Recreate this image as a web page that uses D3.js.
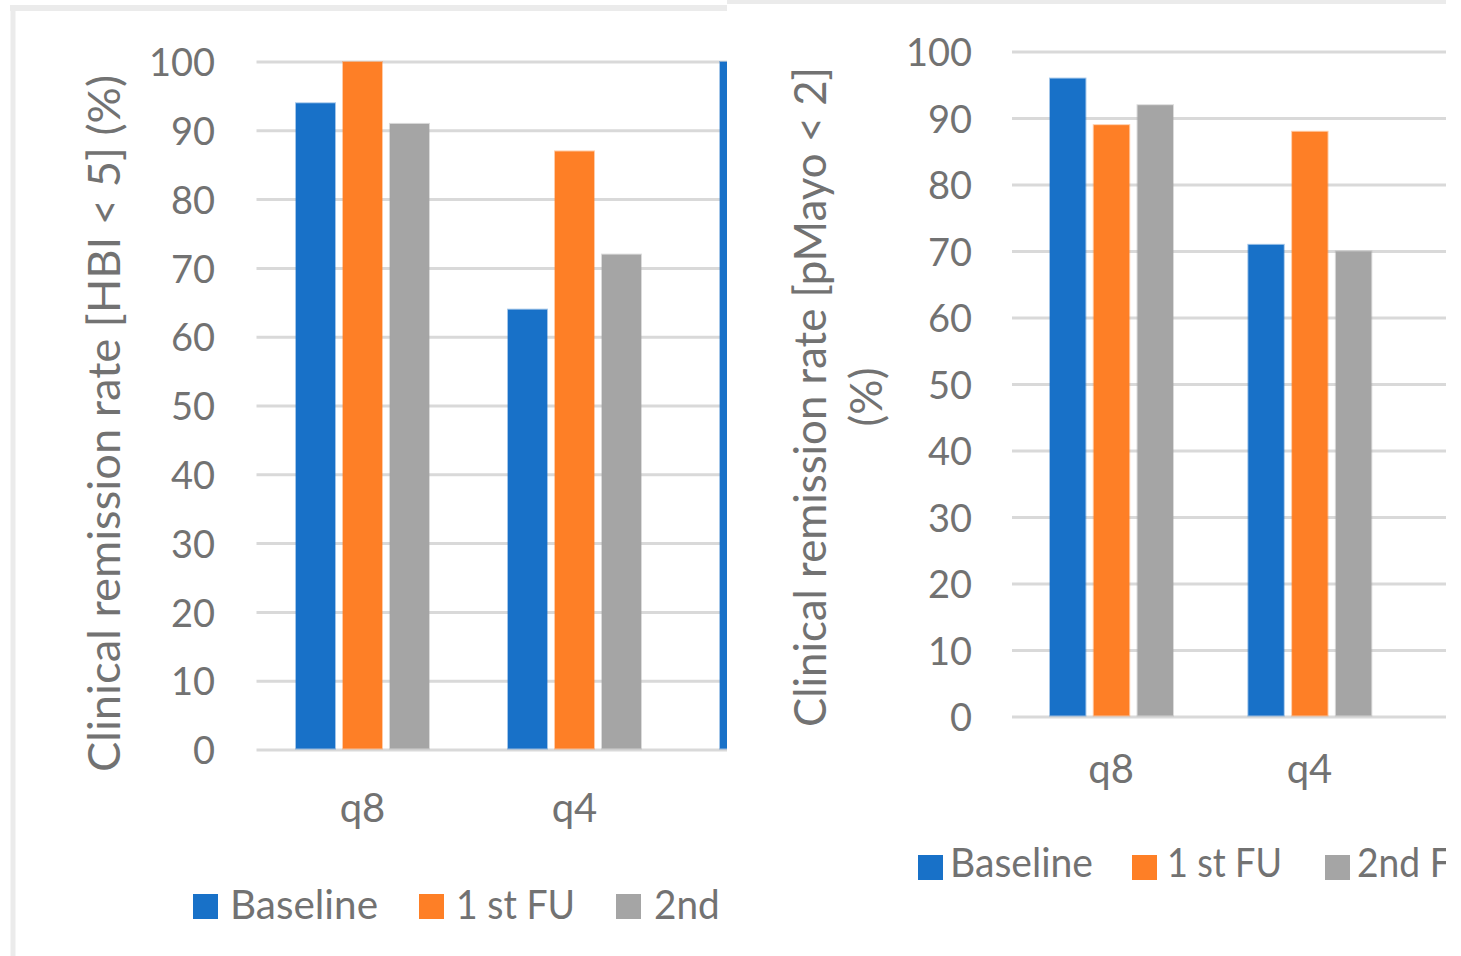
<!DOCTYPE html>
<html>
<head>
<meta charset="utf-8">
<script src="https://cdn.jsdelivr.net/npm/d3@7"></script>
<style>
  html, body { margin: 0; padding: 0; background: #ffffff; }
  svg { display: block; }
  text { font-family: "Lato", "Liberation Sans", sans-serif; fill: #727272; }
</style>
</head>
<body>
<script>
// ---------------- DATA ----------------
// Third category is cropped away in the source picture (only a sliver of the left chart's bar shows).
const categories = ["q8", "q4", "Total"];
const seriesNames = ["Baseline", "1 st FU", "2nd FU"];
const seriesColors = ["#1871c8", "#fe7f26", "#a5a5a5"];

// Left chart: Clinical remission rate [HBI < 5] (%)
const hbiBaseline = [94, 64, 100];
const hbiFirstFU  = [100, 87, null];
const hbiSecondFU = [91, 72, null];

// Right chart: Clinical remission rate [pMayo < 2] (%)
const mayoBaseline = [96, 71, null];
const mayoFirstFU  = [89, 88, null];
const mayoSecondFU = [92, 70, null];

const yTicks = [0, 10, 20, 30, 40, 50, 60, 70, 80, 90, 100];

const leftTitle = ["Clinical remission rate [HBI < 5] (%)"];
const rightTitle = ["Clinical remission rate [pMayo < 2]", "(%)"];

// ---------------- DRAW ----------------
const W = 1461, H = 956;
const svg = d3.select("body").append("svg").attr("width", W).attr("height", H);
const defs = svg.append("defs");
defs.append("clipPath").attr("id", "clipL").append("rect")
  .attr("x", 0).attr("y", 0).attr("width", 727).attr("height", H);
defs.append("clipPath").attr("id", "clipR").append("rect")
  .attr("x", 727).attr("y", 0).attr("width", 719).attr("height", H);

function drawChart(cfg) {
  const g = svg.append("g").attr("clip-path", `url(#${cfg.clip})`);

  cfg.frame(g);

  const y = d3.scaleLinear().domain([0, 100]).range([cfg.y0, cfg.y100]);
  const x0 = d3.scaleBand().domain(categories).range(cfg.xRange);
  const x1 = d3.scaleBand().domain(seriesNames).range(cfg.innerRange).paddingInner(cfg.innerPad);

  // gridlines
  g.append("g").selectAll("line").data(yTicks).join("line")
    .attr("x1", cfg.xRange[0]).attr("x2", cfg.xRange[1])
    .attr("y1", d => y(d)).attr("y2", d => y(d))
    .attr("stroke", "#d9d9d9").attr("stroke-width", 3);

  // y tick labels
  const yAxis = d3.axisLeft(y).tickValues(yTicks).tickSize(0).tickPadding(0);
  const ya = g.append("g").attr("transform", `translate(${cfg.tickX},0)`).call(yAxis);
  ya.select(".domain").remove();
  ya.selectAll("text").attr("font-size", 38).attr("font-family", "Lato, sans-serif")
    .attr("fill", "#727272").attr("dy", "0.36em");

  // bars
  const table = categories.map((c, i) => ({
    cat: c,
    vals: seriesNames.map((s, j) => ({ s, v: cfg.series[j][i], color: seriesColors[j] }))
  }));
  const cg = g.append("g").selectAll("g").data(table).join("g")
    .attr("transform", d => `translate(${x0(d.cat)},0)`);
  cg.selectAll("rect").data(d => d.vals.filter(v => v.v != null)).join("rect")
    .attr("x", d => x1(d.s))
    .attr("width", x1.bandwidth())
    .attr("y", d => y(d.v))
    .attr("height", d => y(0) - y(d.v) - 1.5)
    .attr("fill", d => d.color)
    .attr("stroke", d => d.color).attr("stroke-opacity", 0.4).attr("stroke-width", 2);

  // x category labels (only those whose position lies inside the visible crop)
  const xAxis = d3.axisBottom(x0).tickSize(0).tickPadding(0)
    .tickValues(categories.filter(c => x0(c) + x0.bandwidth() / 2 < cfg.visibleRight));
  const xa = g.append("g").attr("transform", `translate(0,${cfg.xLabelBase})`).call(xAxis);
  xa.select(".domain").remove();
  xa.selectAll("text").attr("font-size", 40).attr("font-family", "Lato, sans-serif")
    .attr("fill", "#727272").attr("dy", 0);

  // axis title
  const t = g.append("text")
    .attr("transform", `translate(${cfg.titleX},${cfg.titleY}) rotate(-90)`)
    .attr("text-anchor", "middle").attr("font-size", 44);
  cfg.title.forEach((line, i) => {
    const ts = t.append("tspan").attr("x", 0).attr("y", i * cfg.titleLead).text(line);
    if (cfg.titleLen[i]) ts.attr("textLength", cfg.titleLen[i]).attr("lengthAdjust", "spacingAndGlyphs");
  });

  // legend
  const lg = g.append("g").selectAll("g").data(seriesNames).join("g");
  lg.append("rect")
    .attr("x", (d, i) => cfg.legSq[i]).attr("y", cfg.legSqY)
    .attr("width", 25).attr("height", 25)
    .attr("fill", (d, i) => seriesColors[i]);
  lg.append("text")
    .attr("x", (d, i) => cfg.legTx[i]).attr("y", cfg.legBase)
    .attr("font-size", 40)
    .attr("textLength", (d, i) => cfg.legLen[i]).attr("lengthAdjust", "spacingAndGlyphs")
    .text(d => d);
}

drawChart({
  clip: "clipL",
  visibleRight: 727,
  frame: g => {
    g.append("line").attr("x1", 10).attr("x2", 727).attr("y1", 8).attr("y2", 8)
      .attr("stroke", "#ebebeb").attr("stroke-width", 6);
    g.append("line").attr("x1", 13).attr("x2", 13).attr("y1", 5).attr("y2", H)
      .attr("stroke", "#ebebeb").attr("stroke-width", 5);
  },
  series: [hbiBaseline, hbiFirstFU, hbiSecondFU],
  y0: 750, y100: 62,
  xRange: [256.5, 892.5],
  innerRange: [39.5, 172.5], innerPad: 0.17,
  tickX: 215,
  xLabelBase: 822,
  title: leftTitle, titleX: 120, titleY: 423.5, titleLead: 0, titleLen: [697],
  legSq: [193, 419, 616], legSqY: 894,
  legTx: [230, 456, 654], legBase: 919,
  legLen: [148, 119, 126]
});

drawChart({
  clip: "clipR",
  visibleRight: 1446,
  frame: g => {
    g.append("line").attr("x1", 727).attr("x2", 1446).attr("y1", 2).attr("y2", 2)
      .attr("stroke", "#ebebeb").attr("stroke-width", 4);
  },
  series: [mayoBaseline, mayoFirstFU, mayoSecondFU],
  y0: 717, y100: 52,
  xRange: [1012, 1607],
  innerRange: [38, 161], innerPad: 0.19,
  tickX: 972,
  xLabelBase: 783,
  title: rightTitle, titleX: 826, titleY: 397, titleLead: 56, titleLen: [660, null],
  legSq: [918, 1132, 1325], legSqY: 855,
  legTx: [950, 1167, 1357], legBase: 877,
  legLen: [143, 115, 121]
});
</script>
</body>
</html>
